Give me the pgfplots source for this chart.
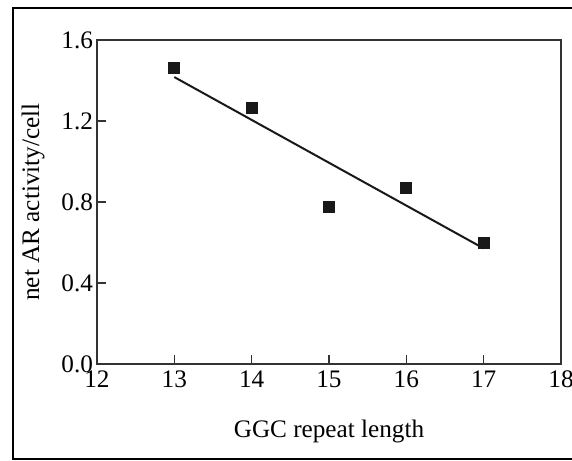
\documentclass[border=0pt]{standalone}
\usepackage{pgfplots}
\pgfplotsset{compat=1.18}
\usepackage{fontspec}
\setmainfont{Liberation Serif}

\begin{document}
\begin{tikzpicture}
\begin{axis}[
    scale only axis,
    width=232pt, height=162pt,
    xmin=12, xmax=18,
    ymin=0, ymax=1.6,
    xtick={12,13,14,15,16,17,18},
    ytick={0,0.4,0.8,1.2,1.6},
    tick pos=left,
    tick align=inside,
    major tick length=4.5pt,
    axis line style={black!80, line width=0.7pt},
    every tick/.style={black!80, line width=0.7pt},
    /pgf/number format/assume math mode=true,
    yticklabel style={/pgf/number format/fixed, /pgf/number format/fixed zerofill,
        /pgf/number format/precision=1, xshift=1.5pt},
    tick label style={font=\fontsize{12.6}{15}\selectfont},
    label style={font=\fontsize{12.6}{15}\selectfont},
    xlabel={GGC repeat length},
    ylabel={net AR activity/cell},
    xlabel style={yshift=-9pt},
    ylabel style={yshift=1.5pt},
    clip=false,
]
\addplot[only marks, mark=square*, mark size=2.75pt, black!90]
    coordinates {(13,1.46)(14,1.263)(15,0.777)(16,0.871)(17,0.599)};
\addplot[line width=1pt, black!90, no marks]
    coordinates {(13,1.417)(17,0.571)};

\coordinate (pageSW) at (rel axis cs:-0.209,-0.2963);
\coordinate (pageNE) at (rel axis cs:1.0237,1.1235);
\coordinate (frTR) at (rel axis cs:1.05,1.0988);
\coordinate (frTL) at (rel axis cs:-0.181,1.0988);
\coordinate (frBL) at (rel axis cs:-0.181,-0.2932);
\coordinate (frBR) at (rel axis cs:1.05,-0.2932);
\end{axis}
\draw[line width=1pt] (frTR) -- (frTL) -- (frBL) -- (frBR);
\pgfresetboundingbox
\useasboundingbox (pageSW) rectangle (pageNE);
\end{tikzpicture}
\end{document}
